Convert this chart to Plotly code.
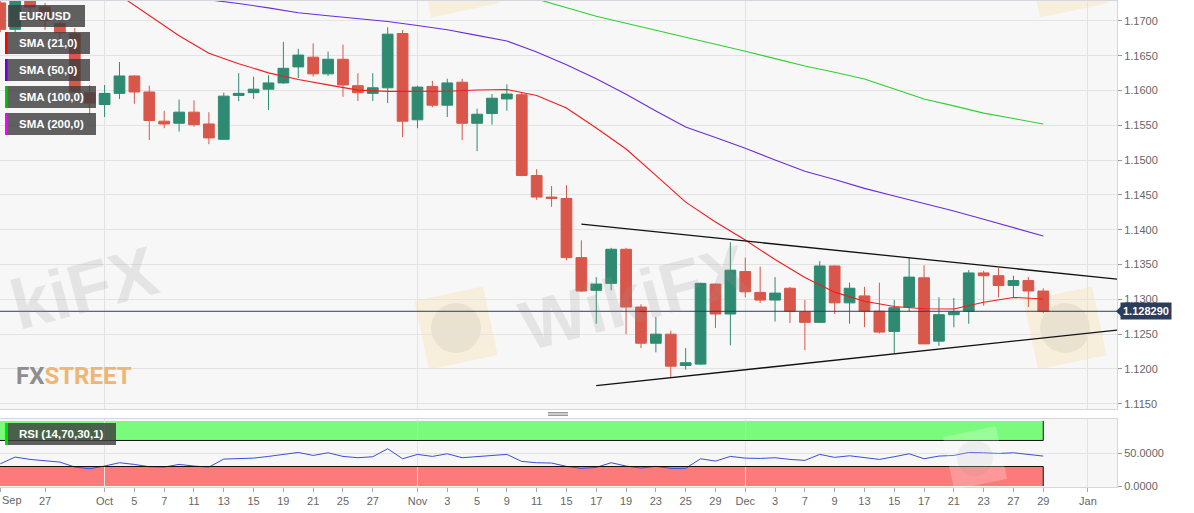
import math

import pandas as pd
import plotly.graph_objects as go

# Canvas / margins (px) - the page is photographed at 1194x513
W, H = 1194, 513
ML, MR, MT, MB = 0, 77, 1, 26

GREEN = "#2e8b72"
RED = "#d9574a"
BORDER = "#d6d6e0"
GRID = "#e3e3e3"
FONT = "Liberation Sans, Arial, sans-serif"

# EUR/USD daily candles, 22 Sep - 29 Dec 2021 (weekdays)
dates = pd.bdate_range("2021-09-22", "2021-12-29")
opens = [1.1726, 1.1688, 1.1738, 1.1720, 1.1696, 1.1682, 1.1597, 1.1580, 1.1596, 1.1621,
         1.1598, 1.1556, 1.1553, 1.1569, 1.1552, 1.1530, 1.1593, 1.1597, 1.1602, 1.1611,
         1.1634, 1.1648, 1.1624, 1.1645, 1.1607, 1.1596, 1.1604, 1.1682, 1.1558, 1.1606,
         1.1579, 1.1612, 1.1553, 1.1567, 1.1588, 1.1594, 1.1478, 1.1447, 1.1445, 1.1360,
         1.1313, 1.1323, 1.1372, 1.1289, 1.1237, 1.1250, 1.1205, 1.1207, 1.1322, 1.1279,
         1.1340, 1.1310, 1.1299, 1.1316, 1.1282, 1.1267, 1.1348, 1.1295, 1.1305, 1.1283,
         1.1254, 1.1289, 1.1331, 1.1240, 1.1278, 1.1283, 1.1338, 1.1334, 1.1320, 1.1327,
         1.1312]
highs = [1.1752, 1.1750, 1.1746, 1.1726, 1.1700, 1.1690, 1.1608, 1.1608, 1.1641, 1.1622,
         1.1607, 1.1571, 1.1587, 1.1586, 1.1569, 1.1597, 1.1625, 1.1620, 1.1622, 1.1670,
         1.1660, 1.1668, 1.1656, 1.1666, 1.1625, 1.1625, 1.1691, 1.1687, 1.1607, 1.1614,
         1.1617, 1.1617, 1.1574, 1.1595, 1.1609, 1.1598, 1.1487, 1.1463, 1.1464, 1.1385,
         1.1332, 1.1374, 1.1374, 1.1293, 1.1275, 1.1255, 1.1230, 1.1324, 1.1323, 1.1382,
         1.1360, 1.1347, 1.1332, 1.1318, 1.1299, 1.1355, 1.1349, 1.1324, 1.1318, 1.1324,
         1.1299, 1.1360, 1.1349, 1.1303, 1.1302, 1.1342, 1.1341, 1.1345, 1.1334, 1.1332,
         1.1316]
lows = [1.1684, 1.1684, 1.1712, 1.1687, 1.1670, 1.1594, 1.1565, 1.1562, 1.1588, 1.1581,
        1.1529, 1.1546, 1.1541, 1.1548, 1.1523, 1.1529, 1.1585, 1.1588, 1.1572, 1.1610,
        1.1618, 1.1620, 1.1621, 1.1591, 1.1585, 1.1585, 1.1582, 1.1533, 1.1546, 1.1576,
        1.1562, 1.1529, 1.1513, 1.1551, 1.1571, 1.1477, 1.1443, 1.1433, 1.1356, 1.1311,
        1.1265, 1.1313, 1.1250, 1.1230, 1.1224, 1.1187, 1.1199, 1.1206, 1.1259, 1.1234,
        1.1303, 1.1295, 1.1268, 1.1266, 1.1227, 1.1266, 1.1279, 1.1265, 1.1260, 1.1251,
        1.1222, 1.1282, 1.1236, 1.1233, 1.1260, 1.1265, 1.1291, 1.1303, 1.1303, 1.1289,
        1.1280]
closes = [1.1688, 1.1738, 1.1720, 1.1701, 1.1683, 1.1598, 1.1582, 1.1596, 1.1621, 1.1598,
          1.1557, 1.1552, 1.1569, 1.1551, 1.1532, 1.1592, 1.1596, 1.1602, 1.1611, 1.1632,
          1.1651, 1.1624, 1.1645, 1.1608, 1.1597, 1.1604, 1.1681, 1.1556, 1.1605, 1.1579,
          1.1611, 1.1553, 1.1566, 1.1589, 1.1595, 1.1478, 1.1447, 1.1445, 1.1360, 1.1312,
          1.1322, 1.1372, 1.1289, 1.1237, 1.1250, 1.1204, 1.1209, 1.1323, 1.1279, 1.1342,
          1.1311, 1.1299, 1.1309, 1.1283, 1.1267, 1.1348, 1.1295, 1.1316, 1.1283, 1.1253,
          1.1288, 1.1332, 1.1236, 1.1278, 1.1282, 1.1338, 1.1334, 1.1320, 1.1327, 1.1312,
          1.128290]

# RSI (14) per candle
rsi = [34.2, 44.5, 40.9, 38.3, 36.8, 29.1, 26.6, 30.7, 35.8, 33.2,
       29.6, 29.1, 33.2, 30.7, 29.1, 41.4, 41.9, 42.9, 45.5, 48.5,
       51.6, 47.0, 51.1, 45.5, 43.5, 45.0, 57.3, 41.9, 48.6, 45.5,
       49.6, 43.5, 45.0, 47.5, 48.6, 37.8, 35.8, 35.3, 30.2, 27.1,
       28.6, 35.8, 30.7, 27.6, 30.2, 27.1, 27.1, 41.9, 38.3, 45.5,
       42.9, 42.4, 43.5, 40.9, 39.4, 48.6, 44.0, 46.5, 43.5, 40.9,
       45.0, 49.6, 41.9, 46.0, 47.0, 51.6, 51.1, 50.1, 51.1, 49.1,
       46.0]

# moving averages, read every second session
sma21_dates = dates[8::2]
sma21 = [1.1737, 1.1708, 1.16789, 1.16537, 1.16386, 1.16254, 1.16158, 1.16082, 1.16006, 1.15988,
         1.15986, 1.15990, 1.16009, 1.16016, 1.15930, 1.15750, 1.15462, 1.15160, 1.14781, 1.14397,
         1.14111, 1.13852, 1.13573, 1.13314, 1.13104, 1.12974, 1.12897, 1.12866, 1.12862, 1.12959,
         1.13028, 1.13006]
sma50_dates = dates[10::2]
sma50 = [1.1741, 1.17358, 1.17305, 1.17251, 1.17188, 1.17118, 1.17074, 1.17033, 1.16992, 1.16935,
         1.16873, 1.16793, 1.16713, 1.16554, 1.16372, 1.16171, 1.15948, 1.15708, 1.15476, 1.15325,
         1.15172, 1.15003, 1.14841, 1.14722, 1.14595, 1.14486, 1.14383, 1.14270, 1.14150, 1.14028,
         1.13911]
sma100_dates = dates[34::2]
sma100 = [1.17437, 1.17314, 1.17192, 1.17069, 1.16966, 1.16866, 1.16765, 1.16673, 1.16566, 1.16459,
          1.16354, 1.16263, 1.16167, 1.16023, 1.15879, 1.15780, 1.15676, 1.15598, 1.15520]

# symmetrical triangle
trend_up_dates = ["2021-11-16", "2022-01-05"]
trend_up = [1.1408, 1.1329]
trend_dn_dates = ["2021-11-17", "2022-01-05"]
trend_dn = [1.1176, 1.1256]

tick_dates = ["2021-09-22", "2021-09-27", "2021-10-01", "2021-10-05", "2021-10-07", "2021-10-11",
              "2021-10-13", "2021-10-15", "2021-10-19", "2021-10-21", "2021-10-25", "2021-10-27",
              "2021-11-01", "2021-11-03", "2021-11-05", "2021-11-09", "2021-11-11", "2021-11-15",
              "2021-11-17", "2021-11-19", "2021-11-23", "2021-11-25", "2021-11-29", "2021-12-01",
              "2021-12-03", "2021-12-07", "2021-12-09", "2021-12-13", "2021-12-15", "2021-12-17",
              "2021-12-21", "2021-12-23", "2021-12-27", "2021-12-29", "2022-01-03"]
tick_text = ["", "27", "Oct", "5", "7", "11", "13", "15", "19", "21", "25", "27",
             "Nov", "3", "5", "9", "11", "15", "17", "19", "23", "25", "29", "Dec",
             "3", "7", "9", "13", "15", "17", "21", "23", "27", "29", "Jan"]
month_starts = ["2021-10-01", "2021-11-01", "2021-12-01", "2022-01-03"]

legend_labels = ["EUR/USD", "SMA (21,0)", "SMA (50,0)", "SMA (100,0)", "SMA (200,0)"]
legend_colors = [None, "#ff0000", "#6a00d8", "#00c800", "#ff00ff"]

# trading-day calendar -> x position (weekends skipped)
calendar = pd.bdate_range("2021-09-22", "2022-01-14")


def pos(ds):
    return list(calendar.get_indexer(pd.DatetimeIndex(ds)))


def px2x(px):
    return (px - ML) / (W - ML - MR)


def py2y(py):
    return (H - MB - py) / (H - MT - MB)


def tilted_square(cx, cy, size, angle):
    # svg path (paper coords) for a square rotated by angle degrees
    a = math.radians(angle)
    pts = []
    for dx, dy in [(-1, -1), (1, -1), (1, 1), (-1, 1)]:
        hx, hy = dx * size / 2, dy * size / 2
        rx = cx + hx * math.cos(a) - hy * math.sin(a)
        ry = cy + hx * math.sin(a) + hy * math.cos(a)
        pts.append("%.5f,%.5f" % (px2x(rx), py2y(ry)))
    return "M" + " L".join(pts) + " Z"


x = pos(dates)
last = x[-1]

fig = go.Figure()

fig.add_trace(
    go.Candlestick(
        x=x, open=opens, high=highs, low=lows, close=closes,
        increasing={"line": {"color": GREEN, "width": 1}, "fillcolor": GREEN},
        decreasing={"line": {"color": RED, "width": 1}, "fillcolor": RED},
        whiskerwidth=0, showlegend=False, hoverinfo="skip",
    )
)
for d, v, c in [(sma21_dates, sma21, "#f21c1c"), (sma50_dates, sma50, "#6b2be0"),
                (sma100_dates, sma100, "#2fd02f")]:
    fig.add_trace(go.Scatter(x=pos(d), y=v, mode="lines", line={"color": c, "width": 1.1},
                             showlegend=False, hoverinfo="skip"))
for d, v in [(trend_up_dates, trend_up), (trend_dn_dates, trend_dn)]:
    fig.add_trace(go.Scatter(x=pos(d), y=v, mode="lines", line={"color": "#111111", "width": 1.3},
                             showlegend=False, hoverinfo="skip"))

fig.add_trace(go.Scatter(x=x, y=rsi, mode="lines", xaxis="x2", yaxis="y2",
                         line={"color": "#3a4fd8", "width": 1}, showlegend=False, hoverinfo="skip"))

shapes = []
# watermark logos: tilted pale squares with a grey disc
for cx, cy in [(456, 328), (1065, 328), (458, -24), (1067, -24)]:
    shapes.append(dict(type="path", xref="paper", yref="paper", path=tilted_square(cx, cy, 70, -12),
                       fillcolor="rgba(245,215,130,0.24)", line={"width": 0}, layer="below"))
for cx, cy in [(456, 328), (1065, 328)]:
    shapes.append(dict(type="circle", xref="paper", yref="paper", x0=px2x(cx - 25), x1=px2x(cx + 25),
                       y0=py2y(cy + 25), y1=py2y(cy - 25), fillcolor="rgba(120,120,120,0.10)",
                       line={"width": 0}, layer="below"))
# RSI overbought / oversold zones
shapes.append(dict(type="rect", xref="x2", yref="y2", x0=x[0] - 1, x1=last, y0=70, y1=100,
                   fillcolor="rgba(0,255,0,0.5)", line={"width": 0}, layer="below"))
shapes.append(dict(type="rect", xref="x2", yref="y2", x0=x[0] - 1, x1=last, y0=0, y1=30,
                   fillcolor="rgba(255,0,0,0.5)", line={"width": 0}, layer="below"))
for lvl in (70, 30):
    shapes.append(dict(type="line", xref="x2", yref="y2", x0=x[0] - 1, x1=last, y0=lvl, y1=lvl,
                       line={"color": "#111", "width": 1}))
shapes.append(dict(type="line", xref="x2", yref="y2", x0=last, x1=last, y0=70, y1=100,
                   line={"color": "#111", "width": 1}))
shapes.append(dict(type="line", xref="x2", yref="y2", x0=last, x1=last, y0=0, y1=30,
                   line={"color": "#111", "width": 1}))
# watermark logo over the RSI zones
shapes.append(dict(type="path", xref="paper", yref="paper", path=tilted_square(975, 458, 54, -12),
                   fillcolor="rgba(255,255,255,0.22)", line={"width": 0}))
shapes.append(dict(type="circle", xref="paper", yref="paper", x0=px2x(957), x1=px2x(993),
                   y0=py2y(476), y1=py2y(440), fillcolor="rgba(120,120,120,0.08)", line={"width": 0}))

# current price line and the pointer of its label
shapes.append(dict(type="line", xref="paper", yref="y", x0=0, x1=1, y0=closes[-1], y1=closes[-1],
                   line={"color": "#2b3d5b", "width": 1}))
py_last = 21 + (1.17 - closes[-1]) * 6960
shapes.append(dict(type="path", xref="paper", yref="paper",
                   path="M%.5f,%.5f L%.5f,%.5f L%.5f,%.5f Z" % (
                       px2x(1116), py2y(py_last), px2x(1121), py2y(py_last - 5),
                       px2x(1121), py2y(py_last + 5)),
                   fillcolor="#2b3d5b", line={"width": 0}))

# legend boxes
box_right = [85, 90, 90, 96, 96]
for i, (lab, col) in enumerate(zip(legend_labels, legend_colors)):
    top = 5 + 27 * i
    left = 8 if col is None else 5
    shapes.append(dict(type="rect", xref="paper", yref="paper", x0=px2x(left), x1=px2x(box_right[i]),
                       y0=py2y(top + 22), y1=py2y(top), fillcolor="rgba(62,62,62,0.82)",
                       line={"width": 0}))
    if col:
        shapes.append(dict(type="rect", xref="paper", yref="paper", x0=px2x(5), x1=px2x(7.5),
                           y0=py2y(top + 22), y1=py2y(top), fillcolor=col, line={"width": 0}))
# RSI label box
shapes.append(dict(type="rect", xref="paper", yref="paper", x0=px2x(5), x1=px2x(116),
                   y0=py2y(445), y1=py2y(423), fillcolor="rgba(62,62,62,0.82)", line={"width": 0}))
shapes.append(dict(type="rect", xref="paper", yref="paper", x0=px2x(5), x1=px2x(8),
                   y0=py2y(445), y1=py2y(423), fillcolor="#00e000", line={"width": 0}))
# resize handle between panes
for hy in (412.5, 414, 415.5):
    shapes.append(dict(type="line", xref="paper", yref="paper", x0=px2x(548), x1=px2x(568),
                       y0=py2y(hy), y1=py2y(hy), line={"color": "#999", "width": 1}))

annotations = []
# watermarks (drawn first so they sit under the labels)
wm_font = {"family": FONT, "size": 70, "color": "rgba(150,150,150,0.19)"}
annotations.append(dict(xref="paper", yref="paper", x=0, y=py2y(288), xanchor="left",
                        yanchor="middle", text="<b>kiFX</b>", showarrow=False, textangle=-15,
                        font=wm_font))
annotations.append(dict(xref="paper", yref="paper", x=px2x(634), y=py2y(298), xanchor="center",
                        yanchor="middle", text="<b>WikiFX</b>", showarrow=False, textangle=-15,
                        font=wm_font))
annotations.append(dict(xref="paper", yref="paper", x=px2x(14), y=py2y(376), xanchor="left",
                        yanchor="middle", showarrow=False,
                        text="<b><span style='color:#8e8e8e'>FX</span>"
                             "<span style='color:#eeb574'>STREET</span></b>",
                        font={"family": "Roboto, sans-serif", "size": 24}))

for i, lab in enumerate(legend_labels):
    annotations.append(dict(xref="paper", yref="paper", x=px2x(17), y=py2y(5 + 27 * i + 11),
                            xanchor="left", yanchor="middle", text="<b>%s</b>" % lab, showarrow=False,
                            font={"family": FONT, "size": 11.5, "color": "white"}))
annotations.append(dict(xref="paper", yref="paper", x=px2x(17), y=py2y(434), xanchor="left",
                        yanchor="middle", text="<b>RSI (14,70,30,1)</b>", showarrow=False,
                        font={"family": FONT, "size": 11.5, "color": "white"}))
annotations.append(dict(xref="paper", yref="y", x=px2x(1120), y=closes[-1], xanchor="left",
                        yanchor="middle", text="<b>%.6f</b>" % closes[-1], showarrow=False,
                        bgcolor="#2b3d5b", borderpad=2,
                        font={"family": FONT, "size": 11, "color": "white"}))
annotations.append(dict(xref="paper", yref="paper", x=0, y=0, xanchor="left", yanchor="top",
                        yshift=-5, text="Sep", showarrow=False,
                        font={"family": FONT, "size": 11, "color": "#666"}))

axis_font = {"family": FONT, "size": 11, "color": "#666"}
fig.update_layout(
    width=W, height=H,
    margin={"l": ML, "r": MR, "t": MT, "b": MB},
    paper_bgcolor="white", plot_bgcolor="#f7f7f7",
    showlegend=False,
    boxgap=0.28, boxgroupgap=0,
    shapes=shapes, annotations=annotations,
    xaxis={
        "domain": [0, 1], "anchor": "y", "range": [-0.02, 74.95],
        "showticklabels": False, "ticks": "", "showgrid": False, "zeroline": False,
        "minor": {"tickmode": "array", "tickvals": pos(month_starts), "showgrid": True,
                  "gridcolor": GRID, "ticks": ""},
        "showline": True, "linecolor": BORDER, "mirror": True,
        "rangeslider": {"visible": False},
    },
    yaxis={
        "domain": [py2y(409), 1], "anchor": "x", "side": "right",
        "range": [1.11425, 1.17287], "dtick": 0.005, "tick0": 1.1, "tickformat": ".4f",
        "gridcolor": GRID, "zeroline": False, "ticks": "outside", "ticklen": 4, "tickcolor": "#999",
        "tickfont": axis_font, "showline": True, "linecolor": BORDER, "mirror": True,
    },
    xaxis2={
        "domain": [0, 1], "anchor": "y2", "matches": "x", "range": [-0.02, 74.95],
        "tickmode": "array", "tickvals": pos(tick_dates), "ticktext": tick_text,
        "ticks": "outside", "ticklen": 4, "tickcolor": "#aaa", "tickfont": axis_font,
        "showgrid": False, "zeroline": False,
        "minor": {"tickmode": "array", "tickvals": pos(month_starts), "showgrid": True,
                  "gridcolor": GRID, "ticks": ""},
        "showline": True, "linecolor": BORDER, "mirror": True,
    },
    yaxis2={
        "domain": [0, py2y(419)], "anchor": "x2", "side": "right", "range": [-1.5, 103],
        "tickmode": "array", "tickvals": [0, 50], "ticktext": ["0.0000", "50.0000"],
        "gridcolor": GRID, "zeroline": False, "ticks": "outside", "ticklen": 4, "tickcolor": "#999",
        "tickfont": axis_font, "showline": True, "linecolor": BORDER, "mirror": True,
    },
)

# page body has an 8px default margin; drop it so the figure sits at the window corner
fig.write_html("out.html", config={"displayModeBar": False},
               post_script="document.body.style.margin='0';")
